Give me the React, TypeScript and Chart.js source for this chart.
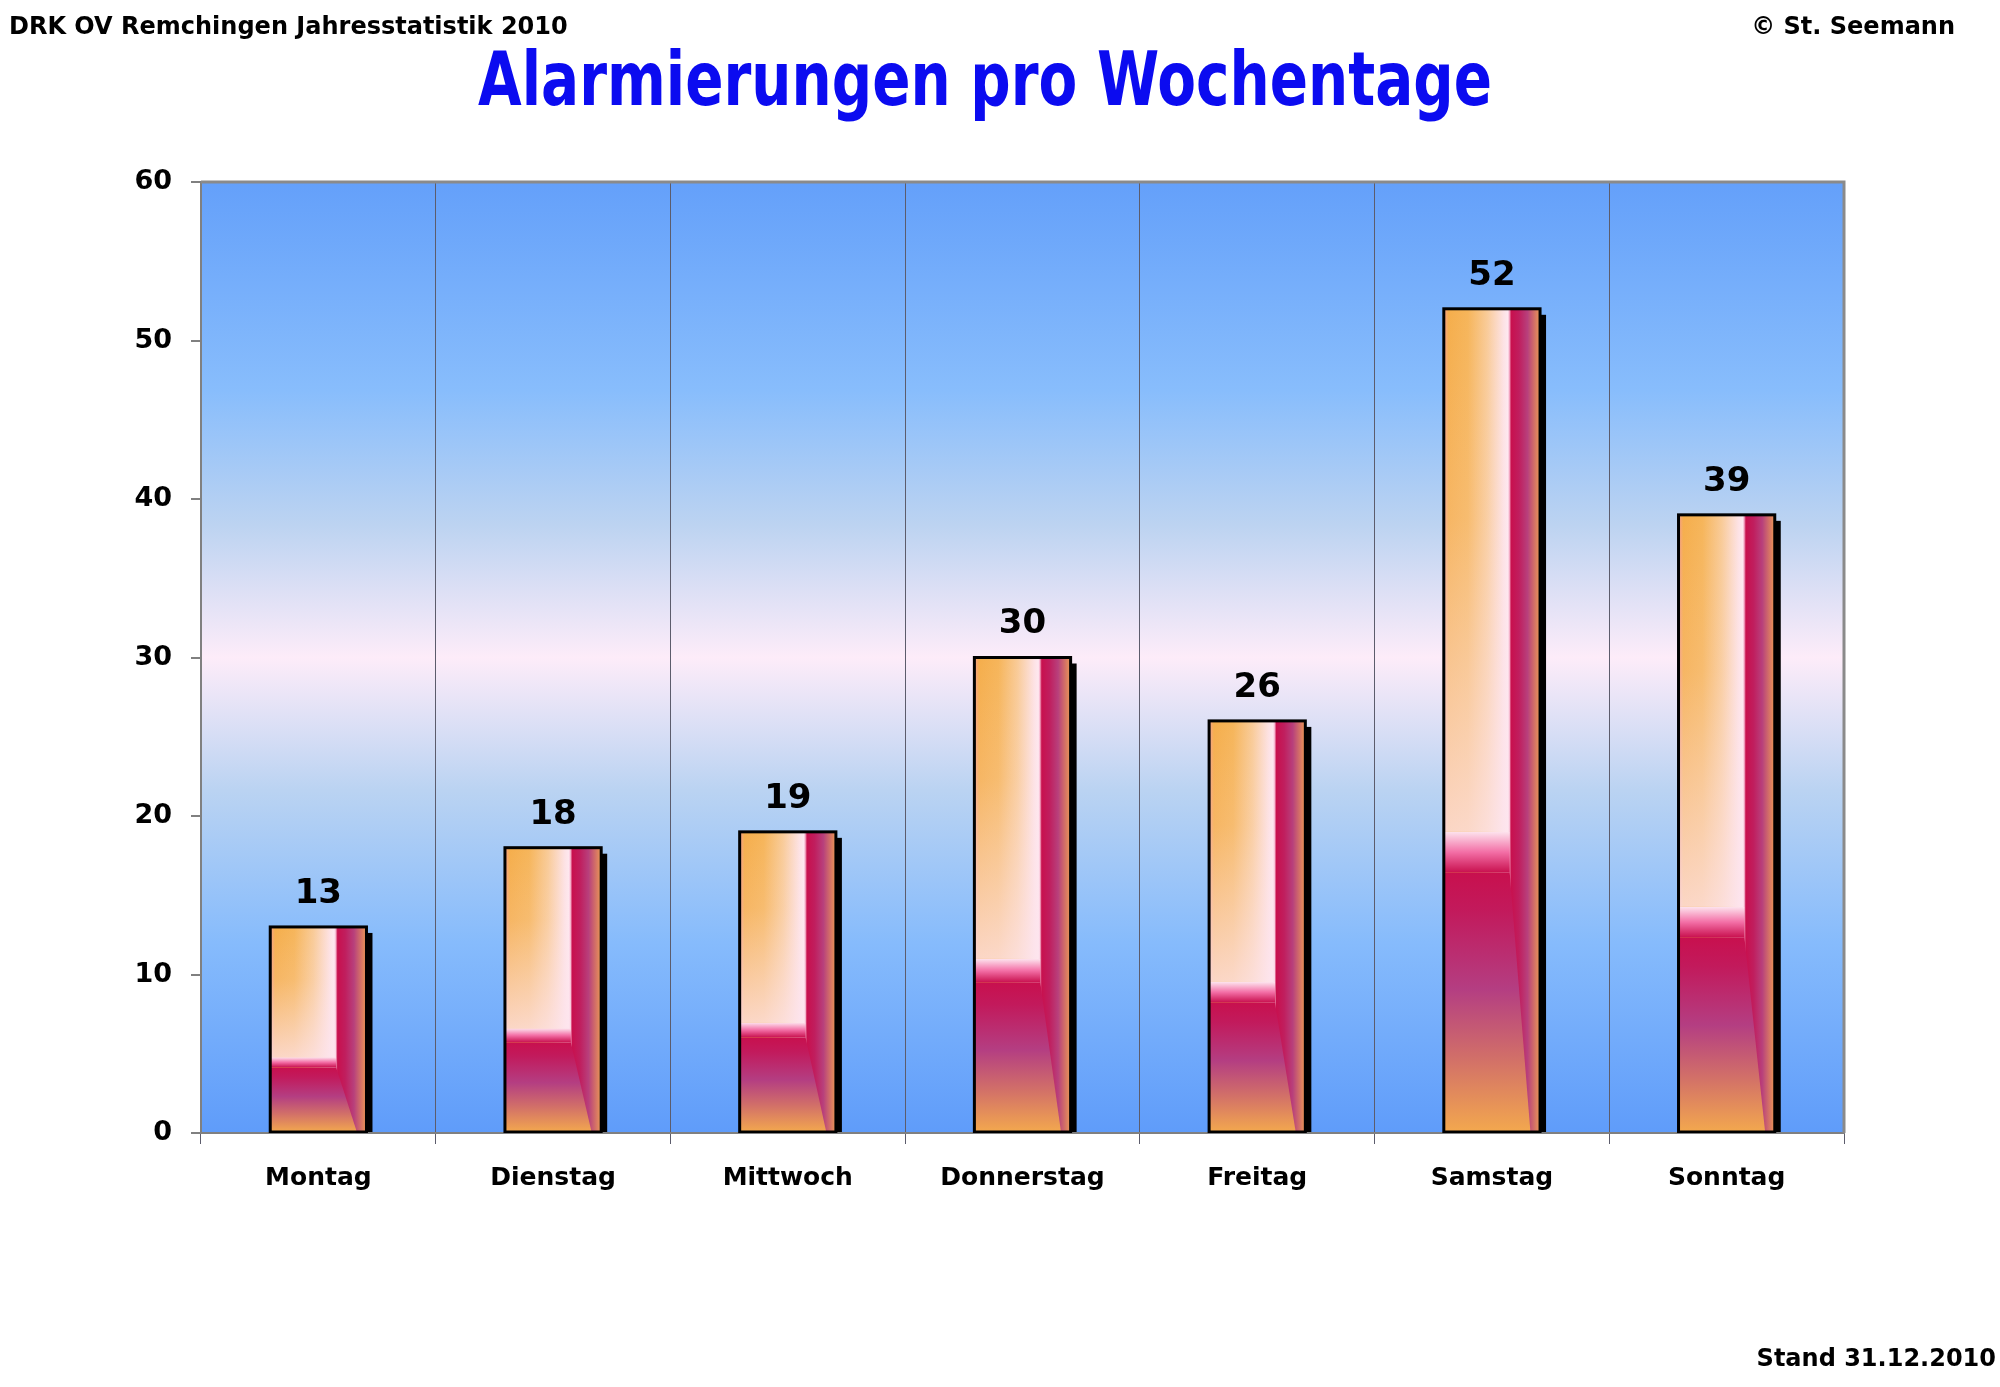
import React, { useEffect, useRef } from "react";
import { Chart, registerables } from "chart.js";

Chart.register(...registerables);

const categories = ["Montag", "Dienstag", "Mittwoch", "Donnerstag", "Freitag", "Samstag", "Sonntag"];
const alarmierungen = [13, 18, 19, 30, 26, 52, 39];
const yTicks = [0, 10, 20, 30, 40, 50, 60];
const headerLeft = "DRK OV Remchingen Jahresstatistik 2010";
const headerRight = "© St. Seemann";
const titleText = "Alarmierungen pro Wochentage";
const footerText = "Stand 31.12.2010";

const FONT = "'Comic Sans MS', 'DejaVu Sans', sans-serif";
const W = 2000;
const H = 1387;

const bgPlugin = {
  id: "bgPlugin",
  beforeDraw(chart: any) {
    const { ctx, chartArea: a } = chart;
    ctx.save();
    ctx.fillStyle = "#ffffff";
    ctx.fillRect(0, 0, chart.width, chart.height);
    const g = ctx.createLinearGradient(0, a.top, 0, a.bottom);
    g.addColorStop(0, "#64a0fa");
    g.addColorStop(0.22, "#88bdfc");
    g.addColorStop(0.36, "#bcd3f1");
    g.addColorStop(0.5, "#fdecf9");
    g.addColorStop(0.64, "#bad3f2");
    g.addColorStop(0.8, "#86bbfc");
    g.addColorStop(1, "#5f9cfa");
    ctx.fillStyle = g;
    ctx.fillRect(a.left, a.top, a.right - a.left, a.bottom - a.top);
    ctx.restore();
  },
};

const barPlugin = {
  id: "barPlugin",
  afterDatasetsDraw(chart: any) {
    const { ctx, chartArea: a } = chart;
    const meta = chart.getDatasetMeta(0);
    ctx.save();
    ctx.beginPath();
    ctx.rect(a.left, a.top - 2, a.right - a.left, a.bottom - a.top + 2);
    ctx.clip();
    meta.data.forEach((bar: any) => {
      const w = bar.width;
      const x0 = bar.x - w / 2;
      const top = bar.y;
      const base = bar.base;
      const h = base - top;
      // shadow
      ctx.fillStyle = "#000000";
      ctx.fillRect(x0 + 6, top + 6, w, h - 6);
      // horizontal body gradient
      const hg = ctx.createLinearGradient(x0, 0, x0 + w, 0);
      hg.addColorStop(0, "#f7a08e");
      hg.addColorStop(0.05, "#f5ae4c");
      hg.addColorStop(0.25, "#f6b55a");
      hg.addColorStop(0.45, "#f9cb98");
      hg.addColorStop(0.62, "#fde2e4");
      hg.addColorStop(0.665, "#fee8f0");
      hg.addColorStop(0.68, "#f7b6cf");
      hg.addColorStop(0.7, "#c8104e");
      hg.addColorStop(0.78, "#c01e5e");
      hg.addColorStop(0.87, "#b8407c");
      hg.addColorStop(1, "#eb9955");
      ctx.fillStyle = hg;
      ctx.fillRect(x0, top, w, h);
      const thr = base - h * 0.315;
      const band = h * 0.05;
      const leftW = w * 0.685;
      // vertical lightening of upper-left part
      const vg = ctx.createLinearGradient(0, top, 0, thr - band);
      vg.addColorStop(0, "rgba(253,228,236,0)");
      vg.addColorStop(0.4, "rgba(253,228,236,0.15)");
      vg.addColorStop(1, "rgba(253,228,238,0.75)");
      ctx.fillStyle = vg;
      ctx.fillRect(x0, top, leftW, thr - band - top);
      // pink transition band
      const bg = ctx.createLinearGradient(0, thr - band, 0, thr);
      bg.addColorStop(0, "#fde4ee");
      bg.addColorStop(0.5, "#f36fa6");
      bg.addColorStop(1, "#c8104e");
      ctx.fillStyle = bg;
      ctx.fillRect(x0, thr - band, leftW, band);
      // lower part with diagonal edge
      const lg = ctx.createLinearGradient(0, thr, 0, base);
      lg.addColorStop(0, "#c8104e");
      lg.addColorStop(0.15, "#c21a5c");
      lg.addColorStop(0.45, "#b43e82");
      lg.addColorStop(0.72, "#d27068");
      lg.addColorStop(1, "#f3a84e");
      ctx.fillStyle = lg;
      ctx.beginPath();
      ctx.moveTo(x0, thr);
      ctx.lineTo(x0 + leftW, thr);
      ctx.lineTo(x0 + w * 0.9, base);
      ctx.lineTo(x0, base);
      ctx.closePath();
      ctx.fill();
      // border
      ctx.strokeStyle = "#000000";
      ctx.lineWidth = 3;
      ctx.strokeRect(x0, top, w, h);
    });
    ctx.restore();

    // value labels
    ctx.save();
    ctx.fillStyle = "#000000";
    ctx.font = `bold 34px ${FONT}`;
    ctx.textAlign = "center";
    ctx.textBaseline = "middle";
    meta.data.forEach((bar: any, i: number) => {
      ctx.fillText(String(alarmierungen[i]), bar.x, bar.y - 33);
    });
    ctx.restore();

    // plot border top & right
    ctx.save();
    ctx.strokeStyle = "#8a8a8a";
    ctx.lineWidth = 3;
    ctx.beginPath();
    ctx.moveTo(a.left, a.top);
    ctx.lineTo(a.right, a.top);
    ctx.lineTo(a.right, a.bottom);
    ctx.stroke();
    ctx.restore();
  },
};

const textPlugin = {
  id: "textPlugin",
  afterDraw(chart: any) {
    const { ctx } = chart;
    ctx.save();
    ctx.fillStyle = "#000000";
    ctx.textBaseline = "middle";
    ctx.font = `bold 24px ${FONT}`;
    ctx.textAlign = "left";
    ctx.fillText(headerLeft, 9, 28);
    ctx.textAlign = "right";
    ctx.fillText(headerRight, 1955, 28);
    ctx.fillText(footerText, 1996, 1360);
    // title
    ctx.font = `bold 74px ${FONT}`;
    ctx.fillStyle = "#0b0bf0";
    ctx.textAlign = "center";
    const tw = ctx.measureText(titleText).width;
    const sx = Math.min(1, 1014 / tw);
    ctx.translate(985, 86);
    ctx.scale(sx, 1);
    ctx.fillText(titleText, 0, 0);
    ctx.restore();
  },
};

export default function App() {
  const ref = useRef<HTMLCanvasElement | null>(null);
  useEffect(() => {
    document.body.style.margin = "0";
    const canvas = ref.current;
    if (!canvas) return;
    const chart = new Chart(canvas, {
      type: "bar",
      data: {
        labels: categories,
        datasets: [
          {
            data: alarmierungen,
            backgroundColor: "rgba(0,0,0,0)",
            borderWidth: 0,
            barPercentage: 0.41,
            categoryPercentage: 1,
          },
        ],
      },
      options: {
        responsive: false,
        animation: false,
        devicePixelRatio: 1,
        layout: { padding: { top: 182, right: 156, left: 0, bottom: 0 } },
        plugins: {
          legend: { display: false },
          tooltip: { enabled: false },
          title: { display: false },
        },
        scales: {
          x: {
            offset: true,
            grid: {
              offset: true,
              drawOnChartArea: true,
              drawTicks: true,
              tickLength: 11,
              color: "#5c5c6c",
              lineWidth: 1,
            },
            border: { display: true, color: "#808080", width: 2 },
            ticks: {
              font: { family: FONT, size: 25, weight: "bold" },
              color: "#000000",
              padding: 19,
            },
            afterFit: (s: any) => {
              s.height = H - 1133;
            },
          },
          y: {
            min: 0,
            max: 60,
            afterBuildTicks: (axis: any) => {
              axis.ticks = yTicks.map((v) => ({ value: v }));
            },
            ticks: {
              font: { family: FONT, size: 27, weight: "bold" },
              color: "#000000",
              padding: 19,
            },
            grid: {
              drawOnChartArea: false,
              drawTicks: true,
              tickLength: 10,
              color: "#808080",
              lineWidth: 2,
            },
            border: { display: true, color: "#808080", width: 2 },
            afterFit: (s: any) => {
              s.width = 201;
            },
          },
        },
      } as any,
      plugins: [bgPlugin, barPlugin, textPlugin],
    });
    return () => chart.destroy();
  }, []);
  return (
    <div style={{ width: W, height: H, background: "#ffffff" }}>
      <canvas ref={ref} width={W} height={H} style={{ display: "block", width: W, height: H }} />
    </div>
  );
}
